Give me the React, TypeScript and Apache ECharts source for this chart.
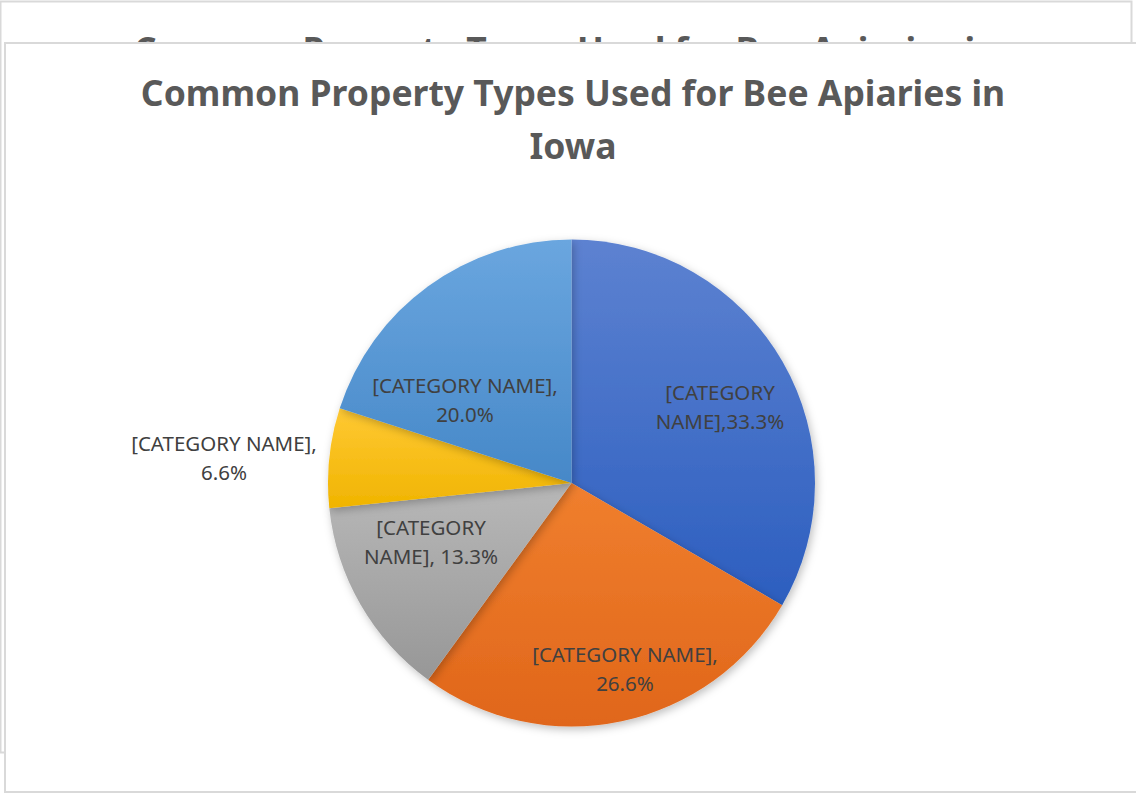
import React, { useEffect, useRef } from "react";
import * as echarts from "echarts";

const TITLE = "Common Property Types Used for Bee Apiaries in\nIowa";
const BACK_TITLE = "Common Property Types Used for Bee Apiaries in";
const CATEGORIES = ["[CATEGORY NAME]", "[CATEGORY NAME]", "[CATEGORY NAME]", "[CATEGORY NAME]", "[CATEGORY NAME]"];
const VALUES = [33.3, 26.6, 13.3, 6.6, 20.0];
const COLORS_TOP = ["#5d82d1", "#f07f2e", "#b8b8b8", "#ffc934", "#6aa6df"];
const COLORS_BOTTOM = ["#2c5ebf", "#e0661a", "#979797", "#f0b400", "#4688c8"];
// label wrapping: true => break after "[CATEGORY"
const BREAK_EARLY = [true, false, true, false, false];
const SEPARATOR = ["", "", " ", "", ""];
// label anchor positions (layout, not data)
const LABEL_POS: [number, number][] = [
  [720, 406],
  [625, 668],
  [431, 541],
  [224, 457],
  [465, 399],
];

export default function App() {
  const ref = useRef<HTMLDivElement>(null);
  useEffect(() => {
    if (!ref.current) return;
    const chart = echarts.init(ref.current, undefined, { renderer: "svg" });
    const font = "'Noto Sans', 'Open Sans', sans-serif";
    const titleStyle = {
      fontSize: 35.5,
      fontWeight: "bold" as const,
      color: "#595959",
      fontFamily: font,
      lineHeight: 53,
      align: "center" as const,
    };
    chart.setOption({
      animation: false,
      backgroundColor: "#ffffff",
      title: [
        {
          text: BACK_TITLE,
          left: 566,
          top: 34,
          padding: 0,
          textAlign: "center",
          textStyle: { ...titleStyle, lineHeight: 30 },
          z: 0,
          zlevel: 0,
        },
        {
          text: TITLE,
          left: 573,
          top: 65,
          padding: 0,
          textAlign: "center",
          textStyle: titleStyle,
          z: 6,
        },
      ],
      graphic: [
        {
          type: "rect",
          z: -10,
          shape: { x: 0.5, y: 1.5, width: 1131, height: 751 },
          style: { fill: "#ffffff", stroke: "#d9d9d9", lineWidth: 2 },
        },
        {
          type: "rect",
          z: 1,
          shape: { x: 5, y: 43, width: 1140, height: 749 },
          style: { fill: "#ffffff", stroke: "#d9d9d9", lineWidth: 2 },
        },
      ],
      series: [
        {
          type: "pie",
          z: 2,
          center: [571.5, 483],
          radius: [0, 243.5],
          startAngle: 90,
          clockwise: true,
          avoidLabelOverlap: false,
          labelLine: { show: false },
          itemStyle: {
            borderWidth: 0,
            shadowBlur: 8,
            shadowColor: "rgba(0,0,0,0.25)",
            shadowOffsetX: 2,
            shadowOffsetY: 3,
          },
          label: {
            show: true,
            position: "inside",
            color: "#404040",
            fontSize: 20.5,
            fontFamily: font,
            lineHeight: 29,
            align: "center",
            formatter: (p: any) => {
              const i = p.dataIndex;
              const v = Number(p.value).toFixed(1) + "%";
              return BREAK_EARLY[i]
                ? "[CATEGORY\nNAME]," + SEPARATOR[i] + v
                : p.name + ",\n" + v;
            },
          },
          labelLayout: (p: any) => ({
            x: LABEL_POS[p.dataIndex][0],
            y: LABEL_POS[p.dataIndex][1],
            align: "center",
            verticalAlign: "middle",
          }),
          data: VALUES.map((v, i) => ({
            name: CATEGORIES[i],
            value: v,
            itemStyle: {
              color: new echarts.graphic.LinearGradient(0, 0, 0, 1, [
                { offset: 0, color: COLORS_TOP[i] },
                { offset: 1, color: COLORS_BOTTOM[i] },
              ]),
            },
          })),
        },
      ],
    });
    return () => chart.dispose();
  }, []);
  return (
    <div
      ref={ref}
      style={{ position: "fixed", left: 0, top: 0, width: 1136, height: 793 }}
    />
  );
}
